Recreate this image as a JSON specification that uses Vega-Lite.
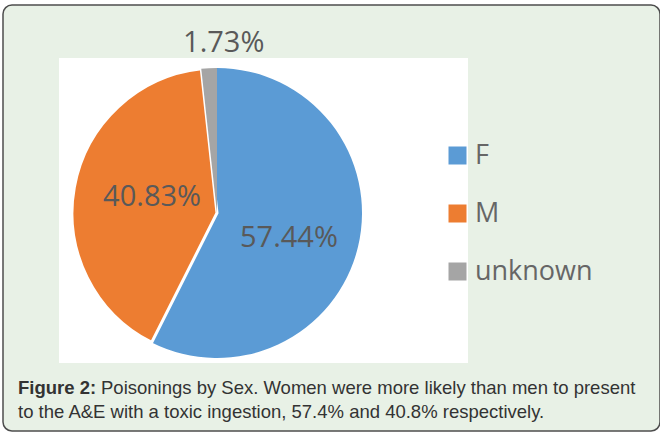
{
  "$schema": "https://vega.github.io/schema/vega-lite/v6.json",
  "width": 660,
  "height": 433,
  "autosize": {"type": "fit", "contains": "padding"},
  "padding": {"left": 3, "top": 5, "right": 0, "bottom": 2},
  "background": "white",
  "config": {
    "view": {"fill": "#e8f1e6", "stroke": "#4d4d4d", "strokeWidth": 1.5, "cornerRadius": 9},
    "text": {"font": "Open Sans"}
  },
  "data": {
    "values": [
      {"sex": "F", "share": 0.5744},
      {"sex": "M", "share": 0.4083},
      {"sex": "unknown", "share": 0.0173}
    ]
  },
  "layer": [
    {
      "data": {"values": [{}]},
      "mark": {"type": "rect", "fill": "white"},
      "encoding": {
        "x": {"datum": 59, "type": "quantitative", "scale": {"domain": [3, 660], "nice": false, "zero": false}, "axis": null},
        "x2": {"datum": 468},
        "y": {"datum": 58, "type": "quantitative", "scale": {"domain": [5, 431], "nice": false, "zero": false, "reverse": true}, "axis": null},
        "y2": {"datum": 363}
      }
    },
    {
      "mark": {"type": "arc", "outerRadius": 145, "stroke": "white"},
      "encoding": {
        "x": {"datum": 217, "type": "quantitative", "scale": {"domain": [3, 660], "nice": false, "zero": false}, "axis": null},
        "y": {"datum": 213, "type": "quantitative", "scale": {"domain": [5, 431], "nice": false, "zero": false, "reverse": true}, "axis": null},
        "theta": {"field": "share", "type": "quantitative", "stack": true},
        "order": {"field": "sex", "type": "nominal", "sort": "ascending"},
        "color": {
          "field": "sex",
          "type": "nominal",
          "scale": {"domain": ["F", "M", "unknown"], "range": ["#5b9bd5", "#ed7d31", "#a5a5a5"]},
          "legend": {
            "orient": "none",
            "legendX": 441,
            "legendY": 137,
            "title": null,
            "padding": 0,
            "symbolType": "square",
            "symbolSize": 324,
            "symbolStrokeWidth": 0,
            "labelFont": "Open Sans",
            "labelFontSize": 27,
            "labelColor": "#666666",
            "labelOffset": 4,
            "rowPadding": 30
          }
        },
        "strokeWidth": {"condition": {"test": "datum.sex === 'M'", "value": 3}, "value": 0}
      }
    },
    {
      "mark": {"type": "text", "radius": 76, "dx": -2, "dy": 7, "fontSize": 29, "color": "#595959"},
      "encoding": {
        "x": {"datum": 217, "type": "quantitative", "scale": {"domain": [3, 660], "nice": false, "zero": false}, "axis": null},
        "y": {"datum": 213, "type": "quantitative", "scale": {"domain": [5, 431], "nice": false, "zero": false, "reverse": true}, "axis": null},
        "theta": {"field": "share", "type": "quantitative", "stack": true},
        "order": {"field": "sex", "type": "nominal", "sort": "ascending"},
        "text": {"condition": {"test": "datum.sex === 'F'", "field": "share", "type": "quantitative", "format": ".2%"}, "value": ""}
      }
    },
    {
      "mark": {"type": "text", "radius": 66, "dy": -4, "fontSize": 29, "color": "#595959"},
      "encoding": {
        "x": {"datum": 217, "type": "quantitative", "scale": {"domain": [3, 660], "nice": false, "zero": false}, "axis": null},
        "y": {"datum": 213, "type": "quantitative", "scale": {"domain": [5, 431], "nice": false, "zero": false, "reverse": true}, "axis": null},
        "theta": {"field": "share", "type": "quantitative", "stack": true},
        "order": {"field": "sex", "type": "nominal", "sort": "ascending"},
        "text": {"condition": {"test": "datum.sex === 'M'", "field": "share", "type": "quantitative", "format": ".2%"}, "value": ""}
      }
    },
    {
      "mark": {"type": "text", "radius": 170, "dx": 16, "fontSize": 29, "color": "#595959"},
      "encoding": {
        "x": {"datum": 217, "type": "quantitative", "scale": {"domain": [3, 660], "nice": false, "zero": false}, "axis": null},
        "y": {"datum": 213, "type": "quantitative", "scale": {"domain": [5, 431], "nice": false, "zero": false, "reverse": true}, "axis": null},
        "theta": {"field": "share", "type": "quantitative", "stack": true},
        "order": {"field": "sex", "type": "nominal", "sort": "ascending"},
        "text": {"condition": {"test": "datum.sex === 'unknown'", "field": "share", "type": "quantitative", "format": ".2%"}, "value": ""}
      }
    },
    {
      "data": {"values": [{}]},
      "mark": {"type": "text", "align": "left", "baseline": "middle", "font": "Liberation Sans", "fontSize": 18.5, "fontWeight": "bold", "color": "#333333"},
      "encoding": {
        "x": {"datum": 18, "type": "quantitative", "scale": {"domain": [3, 660], "nice": false, "zero": false}, "axis": null},
        "y": {"datum": 388, "type": "quantitative", "scale": {"domain": [5, 431], "nice": false, "zero": false, "reverse": true}, "axis": null},
        "text": {"value": "Figure 2:"}
      }
    },
    {
      "data": {"values": [{}]},
      "mark": {"type": "text", "align": "left", "baseline": "middle", "font": "Liberation Sans", "fontSize": 18.5, "color": "#333333"},
      "encoding": {
        "x": {"datum": 101, "type": "quantitative", "scale": {"domain": [3, 660], "nice": false, "zero": false}, "axis": null},
        "y": {"datum": 388, "type": "quantitative", "scale": {"domain": [5, 431], "nice": false, "zero": false, "reverse": true}, "axis": null},
        "text": {"value": "Poisonings by Sex. Women were more likely than men to present"}
      }
    },
    {
      "data": {"values": [{}]},
      "mark": {"type": "text", "align": "left", "baseline": "middle", "font": "Liberation Sans", "fontSize": 18.5, "color": "#333333"},
      "encoding": {
        "x": {"datum": 18, "type": "quantitative", "scale": {"domain": [3, 660], "nice": false, "zero": false}, "axis": null},
        "y": {"datum": 412, "type": "quantitative", "scale": {"domain": [5, 431], "nice": false, "zero": false, "reverse": true}, "axis": null},
        "text": {"value": "to the A&E with a toxic ingestion, 57.4% and 40.8% respectively."}
      }
    }
  ]
}
